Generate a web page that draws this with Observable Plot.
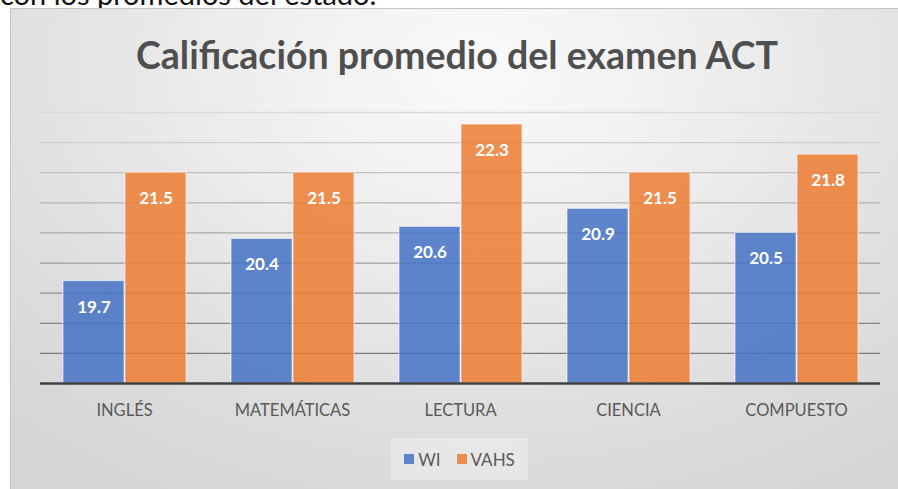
<!DOCTYPE html>
<html>
<head>
<meta charset="utf-8">
<script src="https://cdn.jsdelivr.net/npm/d3@7"></script>
<script src="https://cdn.jsdelivr.net/npm/@observablehq/plot@0.6"></script>
<style>
  html, body { margin: 0; padding: 0; background: #ffffff; overflow: hidden; }
  body { width: 898px; height: 489px; position: relative; font-family: Lato, "Open Sans", sans-serif; }
  #above { position: absolute; left: 0; top: -24px; font-size: 29px; color: #111; white-space: nowrap; font-family: Lato, sans-serif; }
  #frame { position: absolute; left: 10px; top: 8px; width: 900px; height: 500px;
    border-left: 1.5px solid #c4c4c4; border-top: 1.5px solid #c4c4c4;
    background: radial-gradient(ellipse 75% 95% at 52% 12%, #fafafa 0%, #eeeeee 35%, #dedede 75%, #d6d6d6 100%); }
  #title { position: absolute; left: 0; top: 32px; width: 914px; text-align: center; font-weight: 700;
    font-size: 37.5px; color: #4f4f4f; white-space: nowrap; }
  #chart { position: absolute; left: 0; top: 0; }
  #legend { position: absolute; left: 391px; top: 438px; width: 137px; height: 42px; background: rgba(240,240,240,0.55);
    display: flex; align-items: center; justify-content: center; gap: 16px; font-size: 17px; color: #595959; }
  .item { display: flex; align-items: center; gap: 4px; }
  .sw { width: 10px; height: 10px; display: inline-block; }
</style>
</head>
<body>
<div id="above">con los promedios del estado.</div>
<div id="frame"></div>
<div id="title">Calificación promedio del examen ACT</div>
<div id="chart"></div>
<div id="legend"></div>
<script>
const categories = ["INGLÉS", "MATEMÁTICAS", "LECTURA", "CIENCIA", "COMPUESTO"];
const series = ["WI", "VAHS"];
const wiValues = [19.7, 20.4, 20.6, 20.9, 20.5];
const vahsValues = [21.5, 21.5, 22.3, 21.5, 21.8];
const gridValues = [18.5, 19, 19.5, 20, 20.5, 21, 21.5, 22, 22.5];
const seriesColors = ["#4472c4", "#ed7d31"];

const data = [];
categories.forEach((c, i) => {
  data.push({category: c, series: "WI", value: wiValues[i]});
  data.push({category: c, series: "VAHS", value: vahsValues[i]});
});

const gridColor = d3.scaleLinear().domain([18.5, 22.5]).range(["#7a7a7a", "#d9d9d9"]);

const chart = Plot.plot({
  width: 898,
  height: 489,
  marginLeft: 39,
  marginRight: 18,
  marginTop: 112,
  marginBottom: 106,
  style: {background: "transparent", fontFamily: "Lato, sans-serif", fontSize: "16.5px", color: "#595959"},
  y: {domain: [18, 22.5], axis: null},
  fx: {domain: categories, padding: 0, label: null, tickSize: 0, tickPadding: 21, axis: "bottom"},
  x: {domain: series, paddingInner: 0.02, paddingOuter: 0.35, axis: null},
  color: {domain: series, range: seriesColors},
  marks: [
    Plot.ruleY(gridValues, {y: d => d, stroke: d => gridColor(d), strokeWidth: 1.3}),
    Plot.barY(data, {fx: "category", x: "series", y1: 18, y2: "value", fill: "series", fillOpacity: 0.85,
      stroke: "#ffffff", strokeOpacity: 0.6, strokeWidth: 1}),
    Plot.text(data, {fx: "category", x: "series", y: "value", text: d => d.value.toFixed(1), dy: 26,
      fill: "white", fontWeight: 700, fontSize: 17}),
    Plot.ruleY([18], {stroke: "#404040", strokeWidth: 2.6})
  ]
});
document.getElementById("chart").appendChild(chart);

const legend = document.getElementById("legend");
series.forEach((s, i) => {
  const item = document.createElement("div");
  item.className = "item";
  const sw = document.createElement("span");
  sw.className = "sw";
  sw.style.background = seriesColors[i];
  sw.style.opacity = 0.85;
  const label = document.createElement("span");
  label.textContent = s;
  item.appendChild(sw);
  item.appendChild(label);
  legend.appendChild(item);
});
</script>
</body>
</html>
